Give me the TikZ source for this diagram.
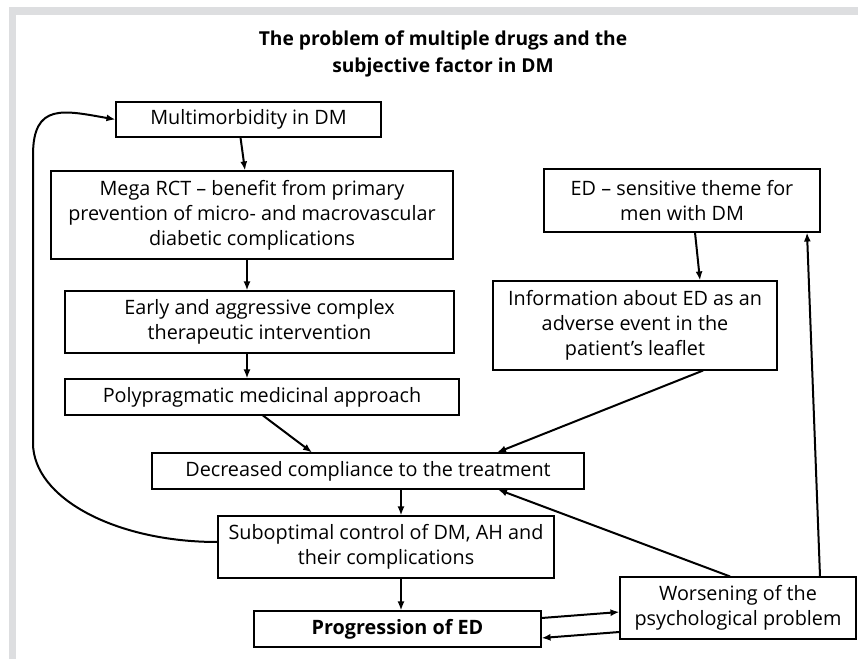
\documentclass[tikz,border=0pt]{standalone}
\usepackage{fontspec}
\setmainfont{Open Sans}
\usetikzlibrary{arrows.meta}
\definecolor{bandgray}{RGB}{221,222,224}

\begin{document}
\begin{tikzpicture}[x=1pt, y=1pt,
    box/.style={draw, line width=1.1pt, align=center, inner sep=0pt, font=\fontsize{19.8}{25}\selectfont},
    arr/.style={draw, line width=2pt, -{Latex[length=9pt,width=7pt]}}]
    \useasboundingbox (0,0) rectangle (858,659);
    \fill[bandgray] (9,644) rectangle (858,652);
    \fill[bandgray] (9,0) rectangle (16,652);

    \node[font=\fontsize{19.2}{27}\selectfont\bfseries, align=center] (title) at (443,605.5) {The problem of multiple drugs and the\\subjective factor in DM};

    \node[box, minimum width=265, minimum height=35] (multi) at (248.5,539.5) {Multimorbidity in DM};
    \node[box, minimum width=402, minimum height=88] (mega) at (252,444) {Mega RCT -- benefit from primary\\prevention of micro- and macrovascular\\diabetic complications};
    \node[box, minimum width=389, minimum height=62] (early) at (259.5,337) {Early and aggressive complex\\therapeutic intervention};
    \node[box, minimum width=394, minimum height=36] (poly) at (262,262) {Polypragmatic medicinal approach};
    \node[box, minimum width=432, minimum height=36] (decr) at (368,188) {Decreased compliance to the treatment};
    \node[box, minimum width=336, minimum height=62] (subopt) at (386,112) {Suboptimal control of DM, AH and\\their complications};
    \node[box, minimum width=287, minimum height=36, font=\fontsize{19.8}{25}\selectfont\bfseries] (prog) at (397.5,30) {Progression of ED};
    \node[box, minimum width=276, minimum height=63] (edsens) at (682,458.5) {ED -- sensitive theme for\\men with DM};
    \node[box, minimum width=284, minimum height=89] (info) at (635,333.5) {Information about ED as an\\adverse event in the\\patient’s leaflet};
    \node[box, minimum width=236, minimum height=62] (worse) at (738,51) {Worsening of the\\psychological problem};

    \coordinate (loopa) at (33,216);
    \coordinate (loopb) at (33,504);

    \draw[arr] ([xshift=-8pt]multi.south) -- ([xshift=-7pt]mega.north);
    \draw[arr] ([xshift=-5pt]mega.south) -- ([xshift=-12.5pt]early.north);
    \draw[arr] ([xshift=-12.5pt]early.south) -- ([xshift=-15pt]poly.north);
    \draw[arr] ([xshift=1pt]poly.south) -- ([xshift=-56pt]decr.north);
    \draw[arr] ([xshift=68pt]info.south) -- ([xshift=129pt]decr.north);
    \draw[arr] ([xshift=33pt]decr.south) -- ([xshift=15pt]subopt.north);
    \draw[arr] ([xshift=15pt]subopt.south) -- ([xshift=3.5pt]prog.north);
    \draw[arr] ([xshift=-8pt]worse.north) -- ([xshift=130pt]decr.south);
    \draw[arr] ([xshift=82pt]worse.north) -- ([xshift=125pt]edsens.south);
    \draw[arr] ([xshift=13pt]edsens.south) -- ([xshift=65pt]info.north);
    \draw[arr] ([yshift=11pt]prog.east) -- ([yshift=-4pt]worse.west);
    \draw[arr] ([yshift=-24pt]worse.west) -- ([yshift=-9pt]prog.east);

    \draw[arr] ([yshift=5pt]subopt.west) .. controls +(-102,0) and +(0,-55) .. (loopa) -- (loopb) to[out=90, in=170, looseness=1.5] (multi.west);
\end{tikzpicture}
\end{document}
